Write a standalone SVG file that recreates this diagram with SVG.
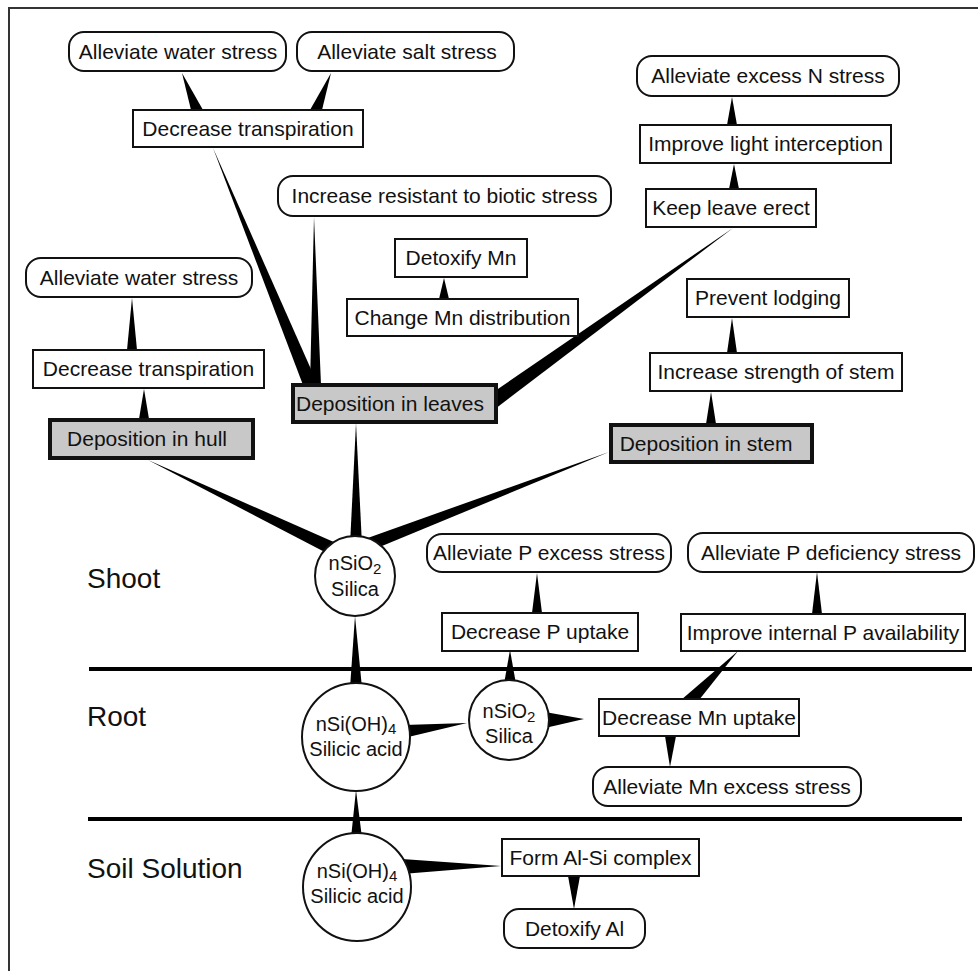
<svg xmlns="http://www.w3.org/2000/svg" width="978" height="971" viewBox="0 0 978 971">
<style>
text{font-family:"Liberation Sans",Arial,sans-serif;fill:#111}
.t{font-size:21px;text-anchor:middle}
.c{font-size:20px;text-anchor:middle}
.lab{font-size:28px}
.rb{fill:#fff;stroke:#111;stroke-width:2}
.gb{fill:#c8c8c8;stroke:#111;stroke-width:4}
.ci{fill:#fff;stroke:#111;stroke-width:2}
.w{fill:#000;stroke:none}
.sep{stroke:#000;stroke-width:4}
.frame{stroke:#333;stroke-width:2;fill:none}
</style>
<rect width="978" height="971" fill="#fff"/>
<path class="frame" d="M9,971 V8 H978"/>
<g id="separators">
<line class="sep" x1="89" y1="669" x2="972" y2="669"/>
<line class="sep" x1="88" y1="819" x2="962" y2="819"/>
</g>
<g id="labels">
<text class="lab" x="87" y="588">Shoot</text>
<text class="lab" x="87" y="726">Root</text>
<text class="lab" x="87" y="878">Soil Solution</text>
</g>
<g id="connectors">
<polygon class="w" points="182,73 191,110 203,110"/>
<polygon class="w" points="331,73 310,110 322,110"/>
<polygon class="w" points="213,148 303,385 318,385"/>
<polygon class="w" points="314,217 310,385 321,385"/>
<polygon class="w" points="733,228 495,391 495,409"/>
<polygon class="w" points="444,278 439,299 449,299"/>
<polygon class="w" points="732,97 727,125 737,125"/>
<polygon class="w" points="734,164 729,189 739,189"/>
<polygon class="w" points="732,318 727,353 737,353"/>
<polygon class="w" points="711,392 706,424 716,424"/>
<polygon class="w" points="132,298 127,350 137,350"/>
<polygon class="w" points="144,389 139,419 149,419"/>
<polygon class="w" points="356,423 350,545 362,545"/>
<polygon class="w" points="148,460 327.6,553.5 333.2,541.7"/>
<polygon class="w" points="609,452 367.7,537.9 372.3,550.1"/>
<polygon class="w" points="355,616 350,688 362,688"/>
<polygon class="w" points="467,723 404,725 404,738"/>
<polygon class="w" points="510,650 504,684 516,684"/>
<polygon class="w" points="537,573 532,613 542,613"/>
<polygon class="w" points="817,572 812,614 822,614"/>
<polygon class="w" points="738,651 681,700 699,700"/>
<polygon class="w" points="584,719 545,712 545,728"/>
<polygon class="w" points="670,767 665,736 676,736"/>
<polygon class="w" points="356,790 351,838 362,838"/>
<polygon class="w" points="501,866 402,859 402,874"/>
<polygon class="w" points="574,909 568,876 580,876"/>
</g>
<g id="n-water1"><rect class="rb" x="69" y="32" width="217" height="39" rx="15"/><text class="t" x="178" y="58.5">Alleviate water stress</text></g>
<g id="n-salt"><rect class="rb" x="297" y="32" width="217" height="39" rx="15"/><text class="t" x="407" y="58.5">Alleviate salt stress</text></g>
<g id="n-transp1"><rect class="rb" x="133" y="110" width="230" height="37"/><text class="t" x="248" y="135.5">Decrease transpiration</text></g>
<g id="n-biotic"><rect class="rb" x="278" y="176" width="333" height="40" rx="15"/><text class="t" x="444.5" y="203">Increase resistant to biotic stress</text></g>
<g id="n-excessN"><rect class="rb" x="637" y="56" width="262" height="40" rx="15"/><text class="t" x="768" y="83">Alleviate excess N stress</text></g>
<g id="n-light"><rect class="rb" x="640" y="125" width="251" height="38"/><text class="t" x="765.5" y="151">Improve light interception</text></g>
<g id="n-erect"><rect class="rb" x="646" y="189" width="170" height="38"/><text class="t" x="731" y="215">Keep leave erect</text></g>
<g id="n-detoxMn"><rect class="rb" x="395" y="239" width="132" height="38"/><text class="t" x="461" y="265">Detoxify Mn</text></g>
<g id="n-changeMn"><rect class="rb" x="347" y="299" width="231" height="37"/><text class="t" x="462.5" y="324.5">Change Mn distribution</text></g>
<g id="n-water2"><rect class="rb" x="26" y="258" width="226" height="39" rx="15"/><text class="t" x="139" y="284.5">Alleviate water stress</text></g>
<g id="n-transp2"><rect class="rb" x="33" y="350" width="231" height="38"/><text class="t" x="148.5" y="376">Decrease transpiration</text></g>
<g id="n-lodging"><rect class="rb" x="687" y="279" width="162" height="38"/><text class="t" x="768" y="305">Prevent lodging</text></g>
<g id="n-strength"><rect class="rb" x="650" y="353" width="252" height="38"/><text class="t" x="776" y="379">Increase strength of stem</text></g>
<g id="n-hull"><rect class="gb" x="50" y="420" width="203" height="38"/><text class="t" x="147" y="446">Deposition in hull</text></g>
<g id="n-leaves"><rect class="gb" x="293" y="385" width="203" height="37"/><text class="t" x="390" y="410.5">Deposition in leaves</text></g>
<g id="n-stem"><rect class="gb" x="611" y="425" width="201" height="37"/><text class="t" x="706" y="450.5">Deposition in stem</text></g>
<g id="n-silica-shoot"><circle class="ci" cx="355" cy="576" r="40"/><text class="c" x="355" y="570">nSiO<tspan font-size="15" dy="4">2</tspan></text><text class="c" x="355" y="596">Silica</text></g>
<g id="n-Pexcess"><rect class="rb" x="427" y="534" width="244" height="38" rx="15"/><text class="t" x="549" y="560">Alleviate P excess stress</text></g>
<g id="n-Pdef"><rect class="rb" x="688" y="533" width="286" height="39" rx="15"/><text class="t" x="831" y="559.5">Alleviate P deficiency stress</text></g>
<g id="n-Puptake"><rect class="rb" x="442" y="613" width="196" height="38"/><text class="t" x="540" y="639">Decrease P uptake</text></g>
<g id="n-internalP"><rect class="rb" x="681" y="614" width="284" height="37"/><text class="t" x="823" y="639.5">Improve internal P availability</text></g>
<g id="n-acid-root"><circle class="ci" cx="356" cy="737" r="54"/><text class="c" x="356" y="731">nSi(OH)<tspan font-size="15" dy="3">4</tspan></text><text class="c" x="356" y="756">Silicic acid</text></g>
<g id="n-silica-root"><circle class="ci" cx="509" cy="720" r="40"/><text class="c" x="509" y="718">nSiO<tspan font-size="15" dy="4">2</tspan></text><text class="c" x="509" y="743">Silica</text></g>
<g id="n-Mnuptake"><rect class="rb" x="599" y="699" width="200" height="37"/><text class="t" x="699" y="724.5">Decrease Mn uptake</text></g>
<g id="n-Mnexcess"><rect class="rb" x="593" y="767" width="268" height="39" rx="15"/><text class="t" x="727" y="793.5">Alleviate Mn excess stress</text></g>
<g id="n-acid-soil"><circle class="ci" cx="357" cy="887" r="54"/><text class="c" x="357" y="878">nSi(OH)<tspan font-size="15" dy="3">4</tspan></text><text class="c" x="357" y="903">Silicic acid</text></g>
<g id="n-AlSi"><rect class="rb" x="502" y="839" width="197" height="37"/><text class="t" x="600.5" y="864.5">Form Al-Si complex</text></g>
<g id="n-detoxAl"><rect class="rb" x="504" y="909" width="141" height="39" rx="15"/><text class="t" x="574.5" y="935.5">Detoxify Al</text></g>
</svg>
